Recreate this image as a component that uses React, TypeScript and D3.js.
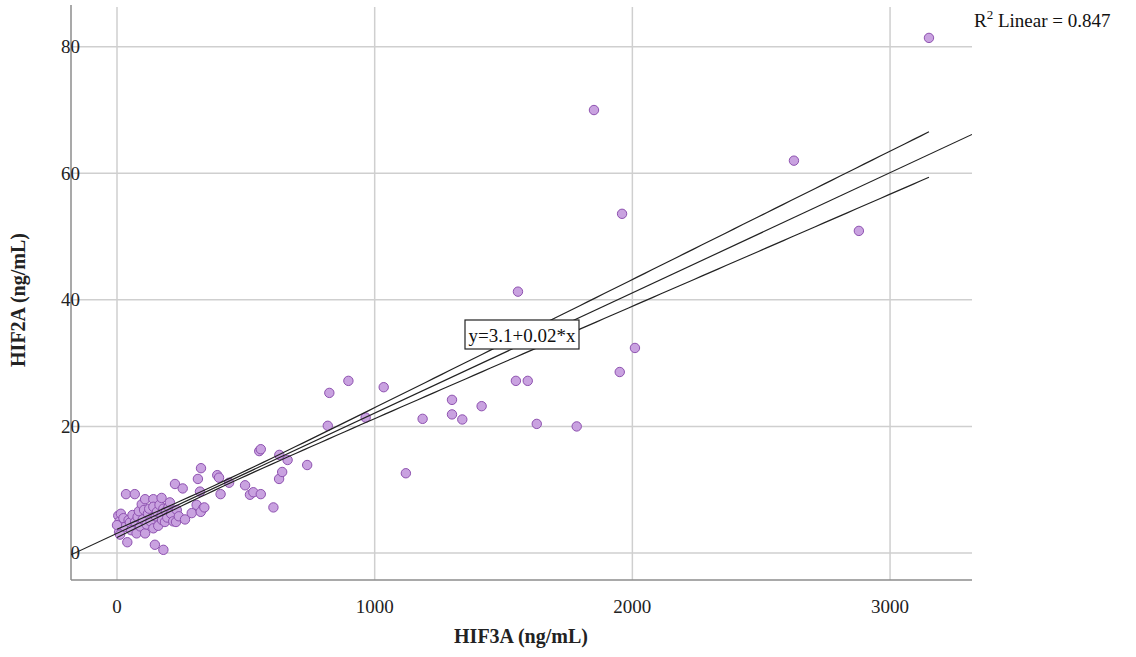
import React from "react";
import * as d3 from "d3";

// HIF3A (ng/mL) values
const hif3a: number[] = [
  5, 10, 15, 20, 8, 25, 30, 12, 0, 35, 40, 45, 50, 55,
  69, 60, 70, 76, 80, 85, 90, 96, 100, 105, 109, 109, 115, 120,
  125, 130, 141, 141, 141, 147, 150, 155, 160, 165, 173, 173, 175, 180, 180,
  186, 190, 195, 200, 205, 210, 218, 225, 229, 232, 240, 255, 264,
  290, 309, 314, 322, 326, 335, 325, 339, 389, 396, 402, 435,
  497, 516, 529, 552, 558, 558, 607, 629, 630, 641, 662, 738, 818, 824, 898, 965,
  1035, 1121, 1186, 1300, 1300, 1340, 1415, 1548, 1556, 1594, 1629, 1784, 1851,
  1951, 1960, 2010, 2627, 2879, 3151,
];
// HIF2A (ng/mL) values
const hif2a: number[] = [
  5.9, 5.0, 6.2, 4.6, 3.3, 5.5, 4.1, 2.9, 4.4, 9.3, 1.7, 5.2, 4.8, 3.6,
  9.3, 6.0, 4.9, 3.1, 5.7, 6.6, 4.2, 7.7, 5.3, 6.8, 8.5, 3.1, 4.5, 6.2,
  7.0, 5.0, 8.5, 7.3, 3.9, 1.3, 5.8, 6.5, 4.3, 7.6, 8.7, 6.0, 5.2, 0.5, 7.0,
  4.9, 6.6, 5.6, 7.3, 8.0, 6.2, 5.0, 10.9, 4.9, 6.8, 5.8, 10.2, 5.3,
  6.3, 7.6, 11.7, 9.7, 13.4, 7.1, 6.5, 7.2, 12.3, 11.9, 9.3, 11.1,
  10.7, 9.2, 9.6, 16.1, 16.4, 9.3, 7.2, 11.7, 15.5, 12.8, 14.7, 13.9, 20.1, 25.3, 27.2, 21.4,
  26.2, 12.6, 21.2, 24.2, 21.9, 21.1, 23.2, 27.2, 41.3, 27.2, 20.4, 20.0, 70.0,
  28.6, 53.6, 32.4, 62.0, 50.9, 81.4,
];

const xTicks: number[] = [0, 1000, 2000, 3000];
const yTicks: number[] = [0, 20, 40, 60, 80];

// Linear fit shown in the chart
const fitIntercept = 3.1;
const fitSlope = 0.019;
// mean-CI band half-width: sqrt(a + b*(x - xbar)^2)
const ciA = 0.15;
const ciB = 1.686e-6;
const ciXbar = 400;

const fitLabel = "y=3.1+0.02*x";
const r2Label = "0.847";

const W = 1136;
const H = 657;
const left = 71;
const right = 972;
const top = 5;
const bottom = 580;

export default function App() {
  const x = d3.scaleLinear().domain([-178.5, 3318]).range([left, right]);
  const y = d3.scaleLinear().domain([-4.27, 86.6]).range([bottom, top]);

  const pts = hif3a.map((v, i) => [v, hif2a[i]] as [number, number]);
  const xMin = d3.min(hif3a) as number;
  const xMax = d3.max(hif3a) as number;

  const fit = (v: number) => fitIntercept + fitSlope * v;
  const half = (v: number) => Math.sqrt(ciA + ciB * (v - ciXbar) ** 2);

  const line = d3
    .line<number>()
    .x((v) => x(v))
    .y((v) => y(fit(v)));
  const upper = d3
    .line<number>()
    .x((v) => x(v))
    .y((v) => y(fit(v) + half(v)));
  const lower = d3
    .line<number>()
    .x((v) => x(v))
    .y((v) => y(fit(v) - half(v)));

  const ciXs = d3.range(0, 101).map((i) => xMin + ((xMax - xMin) * i) / 100);
  const fullXs = [x.invert(left), x.invert(right)];

  const font = "'Liberation Serif', 'Times New Roman', serif";

  return (
    <svg
      width={W}
      height={H}
      style={{ position: "absolute", left: 0, top: 0, background: "#fff" }}
      fontFamily={font}
    >
      <defs>
        <clipPath id="plotclip">
          <rect x={left} y={top} width={right - left} height={bottom - top} />
        </clipPath>
      </defs>
      {/* gridlines */}
      {yTicks.map((t) => (
        <line
          key={"gy" + t}
          x1={left}
          x2={right}
          y1={y(t)}
          y2={y(t)}
          stroke="#cfcfcf"
          strokeWidth={1.5}
        />
      ))}
      {xTicks.map((t) => (
        <line
          key={"gx" + t}
          x1={x(t)}
          x2={x(t)}
          y1={top + 2}
          y2={bottom}
          stroke="#cfcfcf"
          strokeWidth={1.5}
        />
      ))}
      {/* axes */}
      <line x1={left} x2={left} y1={top} y2={bottom} stroke="#8c8c8c" strokeWidth={1.5} />
      <line x1={left} x2={right} y1={bottom} y2={bottom} stroke="#8c8c8c" strokeWidth={1.5} />

      {/* points */}
      <g clipPath="url(#plotclip)">
        {pts.map((p, i) => (
          <circle
            key={i}
            cx={x(p[0])}
            cy={y(p[1])}
            r={4.7}
            fill="#c9a2e0"
            stroke="#8e52b0"
            strokeWidth={1}
          />
        ))}
        {/* fit lines */}
        <path d={line(fullXs) || ""} fill="none" stroke="#222" strokeWidth={1.2} />
        <path d={upper(ciXs) || ""} fill="none" stroke="#222" strokeWidth={1.2} />
        <path d={lower(ciXs) || ""} fill="none" stroke="#222" strokeWidth={1.2} />
      </g>

      {/* fit label */}
      <rect x={465} y={320} width={114} height={29} fill="#fff" stroke="#222" strokeWidth={1.2} />
      <text x={522} y={341.5} textAnchor="middle" fontSize={19} fill="#111">
        {fitLabel}
      </text>

      {/* tick labels */}
      {yTicks.map((t) => (
        <text
          key={"ty" + t}
          x={80}
          y={y(t) + 6.5}
          textAnchor="end"
          fontSize={19}
          fill="#222"
        >
          {t}
        </text>
      ))}
      {xTicks.map((t) => (
        <text
          key={"tx" + t}
          x={x(t)}
          y={613}
          textAnchor="middle"
          fontSize={19}
          fill="#222"
        >
          {t}
        </text>
      ))}

      {/* axis titles */}
      <text x={521} y={643} textAnchor="middle" fontSize={20} fontWeight="bold" fill="#222">
        HIF3A (ng/mL)
      </text>
      <text
        transform={`translate(25, ${300}) rotate(-90)`}
        textAnchor="middle"
        fontSize={20}
        fontWeight="bold"
        fill="#222"
      >
        HIF2A (ng/mL)
      </text>

      {/* R2 label */}
      <text x={974} y={27} fontSize={19} fill="#111">
        R<tspan dy={-8} fontSize={13}>2</tspan>
        <tspan dy={8}> Linear = {r2Label}</tspan>
      </text>
    </svg>
  );
}
